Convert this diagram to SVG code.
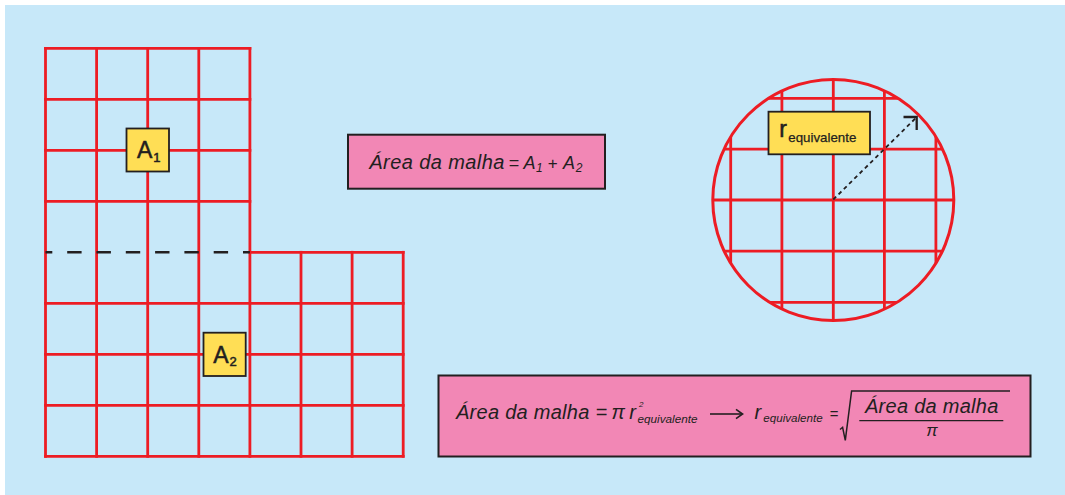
<svg xmlns="http://www.w3.org/2000/svg" width="1065" height="495" viewBox="0 0 1065 495">
  <style>
    .grid { stroke: #ED1C24; stroke-width: 2.8; fill: none; stroke-linecap: square; }
    .tag { fill: #FFDE55; stroke: #231F20; stroke-width: 1.8; }
    .box { fill: #F287B5; stroke: #231F20; stroke-width: 2; }
    .t { font-family: "Liberation Sans", Arial, sans-serif; fill: #231F20; }
    .i { font-style: italic; }
    .heavy { stroke: #231F20; stroke-width: 0.5; }
    .ink { stroke: #231F20; fill: none; }
  </style>
  <defs>
    <clipPath id="circClip">
      <circle cx="833.3" cy="200" r="120.5"/>
    </clipPath>
  </defs>

  <rect x="5" y="5" width="1060" height="490" fill="#C7E8F9"/>

  <!-- Mesh grid (L shape) -->
  <g id="mesh">
    <g class="grid">
      <line x1="45.5" y1="48.3" x2="45.5" y2="456.3"/>
      <line x1="96.6" y1="48.3" x2="96.6" y2="456.3"/>
      <line x1="147.7" y1="48.3" x2="147.7" y2="456.3"/>
      <line x1="198.8" y1="48.3" x2="198.8" y2="456.3"/>
      <line x1="249.9" y1="48.3" x2="249.9" y2="456.3"/>
      <line x1="301" y1="252.3" x2="301" y2="456.3"/>
      <line x1="352.1" y1="252.3" x2="352.1" y2="456.3"/>
      <line x1="403.2" y1="252.3" x2="403.2" y2="456.3"/>
      <line x1="45.5" y1="48.3" x2="249.9" y2="48.3"/>
      <line x1="45.5" y1="99.3" x2="249.9" y2="99.3"/>
      <line x1="45.5" y1="150.3" x2="249.9" y2="150.3"/>
      <line x1="45.5" y1="201.3" x2="249.9" y2="201.3"/>
      <line x1="249.9" y1="252.3" x2="403.2" y2="252.3"/>
      <line x1="45.5" y1="303.3" x2="403.2" y2="303.3"/>
      <line x1="45.5" y1="354.3" x2="403.2" y2="354.3"/>
      <line x1="45.5" y1="405.3" x2="403.2" y2="405.3"/>
      <line x1="45.5" y1="456.3" x2="403.2" y2="456.3"/>
    </g>
    <line x1="45.5" y1="252.3" x2="249.9" y2="252.3" stroke="#231F20" stroke-width="2.6" stroke-dasharray="14.4 14.9" stroke-dashoffset="7.6"/>
  </g>

  <g id="label-A1">
    <rect class="tag" x="126.5" y="128.5" width="42.5" height="43"/>
    <text class="t heavy" x="137" y="158.4" font-size="23">A</text>
    <text class="t heavy" x="153.3" y="161.6" font-size="13">1</text>
  </g>

  <g id="label-A2">
    <rect class="tag" x="203.5" y="332.7" width="42.2" height="43.3"/>
    <text class="t heavy" x="213.3" y="363.3" font-size="23">A</text>
    <text class="t heavy" x="229.6" y="366.2" font-size="13">2</text>
  </g>

  <g id="formula-sum">
    <rect class="box" x="348" y="134.7" width="257" height="54"/>
    <text class="t i" x="369.3" y="169" font-size="20" textLength="135" lengthAdjust="spacing">Área da malha</text>
    <text class="t i" x="508.5" y="169" font-size="18">=</text>
    <text class="t i" x="523.5" y="169" font-size="18">A</text>
    <text class="t i" x="536" y="171.5" font-size="12">1</text>
    <text class="t i" x="547.5" y="169" font-size="17">+</text>
    <text class="t i" x="563" y="169" font-size="18">A</text>
    <text class="t i" x="575.8" y="171.5" font-size="12">2</text>
  </g>

  <g id="circle-mesh">
    <g class="grid" clip-path="url(#circClip)">
      <line x1="730.7" y1="70" x2="730.7" y2="330"/>
      <line x1="781.9" y1="70" x2="781.9" y2="330"/>
      <line x1="833.3" y1="70" x2="833.3" y2="330"/>
      <line x1="884.4" y1="70" x2="884.4" y2="330"/>
      <line x1="935.9" y1="70" x2="935.9" y2="330"/>
      <line x1="700" y1="98.3" x2="965" y2="98.3"/>
      <line x1="700" y1="149.2" x2="965" y2="149.2"/>
      <line x1="700" y1="200" x2="965" y2="200"/>
      <line x1="700" y1="251.2" x2="965" y2="251.2"/>
      <line x1="700" y1="302.3" x2="965" y2="302.3"/>
    </g>
    <circle cx="833.3" cy="200" r="120.5" fill="none" stroke="#ED1C24" stroke-width="3"/>
  </g>

  <g id="connectors">
    <line class="ink" x1="833.3" y1="199.5" x2="915.5" y2="118.3" stroke-width="1.8" stroke-dasharray="4 3.4"/>
    <polyline class="ink" points="903.5,117 916.7,117 916.7,130" stroke-width="2.3" stroke-linejoin="miter"/>
  </g>

  <g id="label-r">
    <rect class="tag" x="768.5" y="111.7" width="101.5" height="42.6"/>
    <text class="t heavy" x="779.3" y="136.7" font-size="23">r</text>
    <text class="t" x="788.3" y="141.7" font-size="13.4" textLength="68" lengthAdjust="spacingAndGlyphs" stroke="#231F20" stroke-width="0.25">equivalente</text>
  </g>

  <g id="formula-radius">
    <rect class="box" x="438.5" y="375.5" width="592" height="81"/>
    <text class="t i" x="456" y="419.3" font-size="20" textLength="133.3" lengthAdjust="spacing">Área da malha</text>
    <text class="t i" x="595.5" y="419.3" font-size="20">=</text>
    <text class="t i" x="611.5" y="419.3" font-size="20">π</text>
    <text class="t i" x="629.3" y="419.3" font-size="20">r</text>
    <text class="t i" x="639" y="407" font-size="8">2</text>
    <text class="t i" x="637.5" y="422.5" font-size="11.5" textLength="60" lengthAdjust="spacingAndGlyphs">equivalente</text>
    <line class="ink" x1="710" y1="414" x2="742" y2="414" stroke-width="1.6"/>
    <polyline class="ink" points="736,409.3 742.6,414 736,418.7" stroke-width="1.6"/>
    <text class="t i" x="754.5" y="419" font-size="20">r</text>
    <text class="t i" x="763.3" y="422" font-size="11.5" textLength="59.4" lengthAdjust="spacingAndGlyphs">equivalente</text>
    <text class="t i" x="829.5" y="418.5" font-size="15">=</text>
    <polyline class="ink" points="840,429.5 842.6,427.3 845.3,440.3 851.6,391 1010,391" stroke-width="1.5" stroke-linejoin="miter"/>
    <text class="t i" x="865" y="413.3" font-size="20" textLength="133.3" lengthAdjust="spacing">Área da malha</text>
    <line class="ink" x1="859.3" y1="420.7" x2="1003.3" y2="420.7" stroke-width="1.3"/>
    <text class="t i" x="926.3" y="435.5" font-size="17">π</text>
  </g>
</svg>
